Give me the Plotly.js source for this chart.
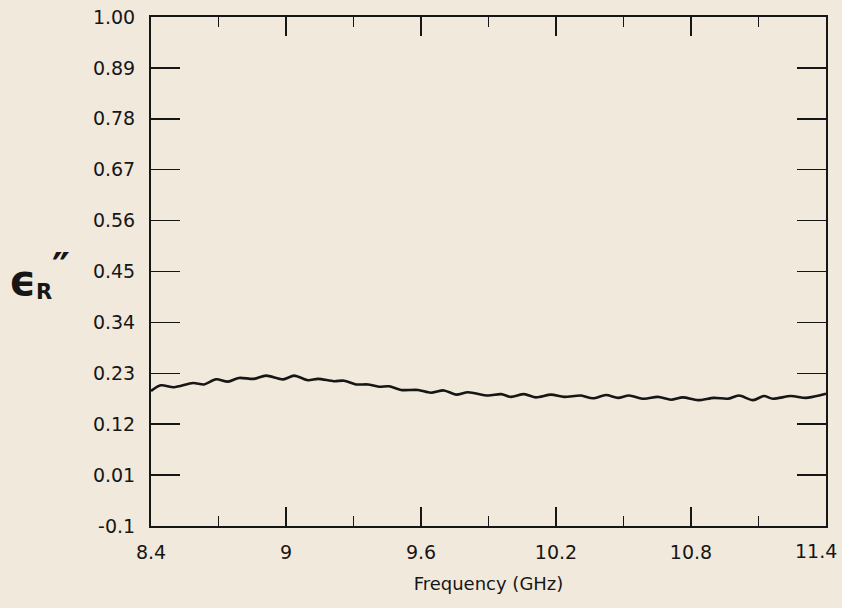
<!DOCTYPE html>
<html>
<head>
<meta charset="utf-8">
<script src="https://cdn.plot.ly/plotly-3.0.1.min.js"></script>
<style>
html,body{margin:0;padding:0;background:#f1e9dc;}
#chart{width:842px;height:608px;}
</style>
</head>
<body>
<div id="chart"></div>
<script>
// Frequency (GHz)
const freq = [8.40, 8.444, 8.502, 8.587, 8.636, 8.689, 8.742, 8.791, 8.858, 8.911, 8.987, 9.036, 9.098, 9.142, 9.213, 9.258, 9.311, 9.364, 9.413, 9.458, 9.511, 9.587, 9.644, 9.702, 9.756, 9.809, 9.898, 9.956, 10.0, 10.058, 10.111, 10.178, 10.236, 10.311, 10.364, 10.422, 10.476, 10.524, 10.591, 10.653, 10.711, 10.764, 10.831, 10.902, 10.964, 11.013, 11.076, 11.124, 11.164, 11.244, 11.311, 11.378, 11.40];
// Imaginary part of relative permittivity
const epsR2 = [0.192, 0.204, 0.200, 0.209, 0.206, 0.217, 0.212, 0.220, 0.218, 0.225, 0.217, 0.225, 0.215, 0.218, 0.213, 0.214, 0.206, 0.206, 0.201, 0.202, 0.194, 0.194, 0.188, 0.193, 0.184, 0.189, 0.182, 0.185, 0.179, 0.185, 0.178, 0.184, 0.179, 0.182, 0.176, 0.183, 0.177, 0.182, 0.175, 0.179, 0.173, 0.178, 0.172, 0.177, 0.175, 0.182, 0.172, 0.181, 0.175, 0.181, 0.177, 0.183, 0.186];

const xTickVals = [8.4, 9, 9.6, 10.2, 10.8, 11.4];
const xTickText = ["8.4", "9", "9.6", "10.2", "10.8", "11.4"];
const xMinorVals = [8.7, 9.3, 9.9, 10.5, 11.1];
const yTickVals = [-0.1, 0.01, 0.12, 0.23, 0.34, 0.45, 0.56, 0.67, 0.78, 0.89, 1.00];
const yTickText = ["-0.1", "0.01", "0.12", "0.23", "0.34", "0.45", "0.56", "0.67", "0.78", "0.89", "1.00"];

const bg = '#f1e9dc';
const ink = '#161616';
const fontFam = 'DejaVu Sans, Liberation Sans, Arial, sans-serif';

// paper coords helper for label placement (plot area: 151..826 x, 17..526 y)
const px = v => (v - 151) / 675;
const py = v => (526 - v) / 509;

// last x tick label sits slightly inward of the axis end (as in the original), drawn as an annotation
const lastIdx = xTickText.length - 1;
const xTickTextShown = xTickText.map((t, i) => i === lastIdx ? ' ' : t);

const trace = {
  x: freq, y: epsR2, type: 'scatter', mode: 'lines',
  line: {color: ink, width: 2.6, shape: 'spline', smoothing: 0.8},
  hoverinfo: 'skip'
};

const layout = {
  width: 842, height: 608,
  paper_bgcolor: bg, plot_bgcolor: bg,
  margin: {l: 151, r: 16, t: 17, b: 82},
  showlegend: false,
  font: {family: fontFam, size: 18, color: ink},
  xaxis: {
    range: [8.4, 11.4001],
    tickmode: 'array', tickvals: xTickVals, ticktext: xTickTextShown,
    ticks: 'inside', ticklen: 19, tickwidth: 1.2, tickcolor: ink,
    minor: {tickmode: 'array', tickvals: xMinorVals, ticks: 'inside', ticklen: 10, tickwidth: 1, tickcolor: ink},
    showline: true, linewidth: 2, linecolor: ink, mirror: 'ticks',
    showgrid: false, zeroline: false,
    tickfont: {family: fontFam, size: 19, color: ink},
    ticklabelstandoff: 8,
    title: {text: 'Frequency (GHz)', font: {family: fontFam, size: 18, color: ink}, standoff: 16}
  },
  yaxis: {
    range: [-0.1, 1.0001],
    tickmode: 'array', tickvals: yTickVals, ticktext: yTickText,
    ticks: 'inside', ticklen: 29, tickwidth: 1.5, tickcolor: ink,
    showline: true, linewidth: 2, linecolor: ink, mirror: 'ticks',
    showgrid: false, zeroline: false,
    tickfont: {family: fontFam, size: 19, color: ink},
    ticklabelstandoff: 10
  },
  annotations: [
    {xref: 'paper', yref: 'paper', x: px(839), y: py(551), xanchor: 'right', yanchor: 'middle',
     showarrow: false, text: xTickText[lastIdx], font: {family: fontFam, size: 19, color: ink}},
    {xref: 'paper', yref: 'paper', x: px(22), y: py(280), xanchor: 'center', yanchor: 'middle',
     showarrow: false, text: 'ϵ', font: {family: fontFam, size: 42, color: ink, weight: 'bold'}},
    {xref: 'paper', yref: 'paper', x: px(44), y: py(292), xanchor: 'center', yanchor: 'middle',
     showarrow: false, text: 'R', font: {family: fontFam, size: 21, color: ink, weight: 'bold'}},
    {xref: 'paper', yref: 'paper', x: px(61), y: py(268), xanchor: 'center', yanchor: 'middle',
     showarrow: false, text: '″', font: {family: fontFam, size: 40, color: ink, weight: 'bold'}}
  ]
};

Plotly.newPlot('chart', [trace], layout, {displayModeBar: false, staticPlot: true});
</script>
</body>
</html>
